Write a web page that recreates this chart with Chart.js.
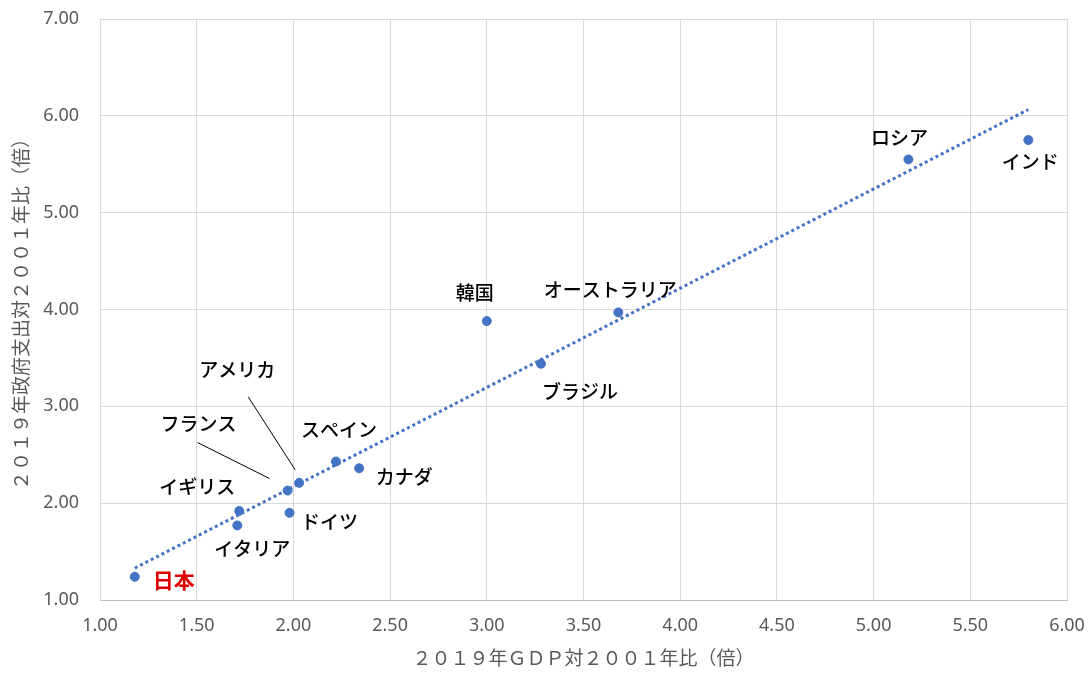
<!DOCTYPE html>
<html>
<head>
<meta charset="utf-8">
<script src="https://cdn.jsdelivr.net/npm/chart.js@4"></script>
<style>
  html, body { margin: 0; padding: 0; background: #fff; }
  #wrap { width: 1092px; height: 680px; }
</style>
</head>
<body>
<div id="wrap"><canvas id="myChart" width="1092" height="680"></canvas></div>
<script>
// 国名と倍率（2001年比）
const countries = ['日本', 'イタリア', 'イギリス', 'ドイツ', 'フランス', 'アメリカ', 'スペイン', 'カナダ', '韓国', 'ブラジル', 'オーストラリア', 'ロシア', 'インド'];
const gdpRatio = [1.18, 1.71, 1.72, 1.98, 1.97, 2.03, 2.22, 2.34, 3.00, 3.28, 3.68, 5.18, 5.80];
const govRatio = [1.24, 1.77, 1.92, 1.90, 2.13, 2.21, 2.43, 2.36, 3.88, 3.44, 3.97, 5.55, 5.75];

const xTicks = [1.0, 1.5, 2.0, 2.5, 3.0, 3.5, 4.0, 4.5, 5.0, 5.5, 6.0];
const yTicks = [1, 2, 3, 4, 5, 6, 7];

const xTitle = '２０１９年ＧＤＰ対２００１年比（倍）';
const yTitle = '２０１９年政府支出対２００１年比（倍）';

// ラベルの位置（点からのずれ px）
const labelOffsets = {
    '日本': [39, 3],
    'イタリア': [15, 23],
    'イギリス': [-42, -24],
    'ドイツ': [40, 9],
    'フランス': [-89, -67],
    'アメリカ': [-62, -113],
    'スペイン': [3, -32],
    'カナダ': [45, 8],
    '韓国': [-12, -28],
    'ブラジル': [39, 28],
    'オーストラリア': [-8, -23],
    'ロシア': [-9, -22],
    'インド': [2, 22]
};
// 引き出し線（点からのずれ px）
const leaders = {
    'フランス': [[-90, -48], [-18, -12]],
    'アメリカ': [[-51, -86], [-4, -13]]
};

// 近似直線（最小二乗）
function linearFit(xs, ys) {
    let n = xs.length, mx = 0, my = 0;
    for (let i = 0; i < n; i++) { mx += xs[i]; my += ys[i]; }
    mx /= n; my /= n;
    let sxy = 0, sxx = 0;
    for (let i = 0; i < n; i++) {
        sxy += (xs[i] - mx) * (ys[i] - my);
        sxx += (xs[i] - mx) * (xs[i] - mx);
    }
    let slope = sxy / sxx;
    return { slope: slope, icpt: my - slope * mx };
}
const fit = linearFit(gdpRatio, govRatio);
const xLo = Math.min(...gdpRatio), xHi = Math.max(...gdpRatio);
const trendPoints = [
    { x: xLo, y: fit.icpt + fit.slope * xLo },
    { x: xHi, y: fit.icpt + fit.slope * xHi }
];

const points = gdpRatio.map((x, i) => ({ x: x, y: govRatio[i] }));

const labelPlugin = {
    id: 'countryLabels',
    afterDatasetsDraw(chart) {
        const ctx = chart.ctx;
        const meta = chart.getDatasetMeta(1);
        ctx.save();
        meta.data.forEach(function(pt, i) {
            let name = countries[i];
            let off = labelOffsets[name] || [0, -20];
            if (leaders[name]) {
                let a = leaders[name][0], b = leaders[name][1];
                ctx.strokeStyle = '#000';
                ctx.lineWidth = 1;
                ctx.beginPath();
                ctx.moveTo(pt.x + a[0], pt.y + a[1]);
                ctx.lineTo(pt.x + b[0], pt.y + b[1]);
                ctx.stroke();
            }
            if (name === '日本') {
                ctx.font = 'bold 21px "Noto Sans CJK JP"';
                ctx.fillStyle = '#e00000';
            } else {
                ctx.font = '500 19px "Noto Sans CJK JP"';
                ctx.fillStyle = '#000';
            }
            ctx.textAlign = 'center';
            ctx.textBaseline = 'middle';
            ctx.fillText(name, pt.x + off[0], pt.y + off[1]);
        });
        ctx.restore();
    }
};

// 軸の大きさを固定して、余白の自動調整を止める
function fixScale(scale, w, h) {
    if (w) scale.width = w;
    if (h) scale.height = h;
    scale.paddingLeft = 0;
    scale.paddingRight = 0;
    scale.paddingTop = 0;
    scale.paddingBottom = 0;
}

const tickFont = { family: '"Noto Sans", sans-serif', size: 18 };
const titleFont = { family: '"Noto Sans CJK JP"', size: 19 };

new Chart(document.getElementById('myChart'), {
    type: 'scatter',
    data: {
        datasets: [
            {
                label: '近似',
                type: 'line',
                data: trendPoints,
                borderColor: '#4472C4',
                borderWidth: 3,
                borderDash: [3, 3],
                pointRadius: 0,
                fill: false
            },
            {
                label: '国',
                data: points,
                backgroundColor: '#4472C4',
                borderColor: '#4472C4',
                pointRadius: 4.5,
                pointHoverRadius: 4.5
            }
        ]
    },
    options: {
        responsive: false,
        animation: false,
        layout: { padding: { top: 19, right: 25, bottom: 0, left: 0 } },
        plugins: {
            legend: { display: false },
            tooltip: { enabled: false }
        },
        scales: {
            x: {
                type: 'linear',
                min: 1, max: 6,
                afterFit(scale) { fixScale(scale, 0, 80); },
                afterBuildTicks(scale) { scale.ticks = xTicks.map(v => ({ value: v })); },
                grid: { color: '#d9d9d9', drawTicks: false },
                border: { color: '#bfbfbf' },
                ticks: {
                    padding: 15,
                    color: '#595959',
                    font: tickFont,
                    maxRotation: 0,
                    callback: v => v.toFixed(2)
                },
                title: {
                    display: true,
                    text: xTitle,
                    color: '#595959',
                    font: titleFont,
                    padding: { top: 0, bottom: 11 }
                }
            },
            y: {
                type: 'linear',
                min: 1, max: 7,
                afterFit(scale) { fixScale(scale, 100, 0); },
                afterBuildTicks(scale) { scale.ticks = yTicks.map(v => ({ value: v })); },
                grid: { color: '#d9d9d9', drawTicks: false },
                border: { color: '#d9d9d9' },
                ticks: {
                    padding: 21,
                    color: '#595959',
                    font: tickFont,
                    callback: v => v.toFixed(2)
                },
                title: {
                    display: true,
                    text: yTitle,
                    color: '#595959',
                    font: titleFont,
                    padding: { top: 9, bottom: 0 }
                }
            }
        }
    },
    plugins: [labelPlugin]
});
</script>
</body>
</html>
